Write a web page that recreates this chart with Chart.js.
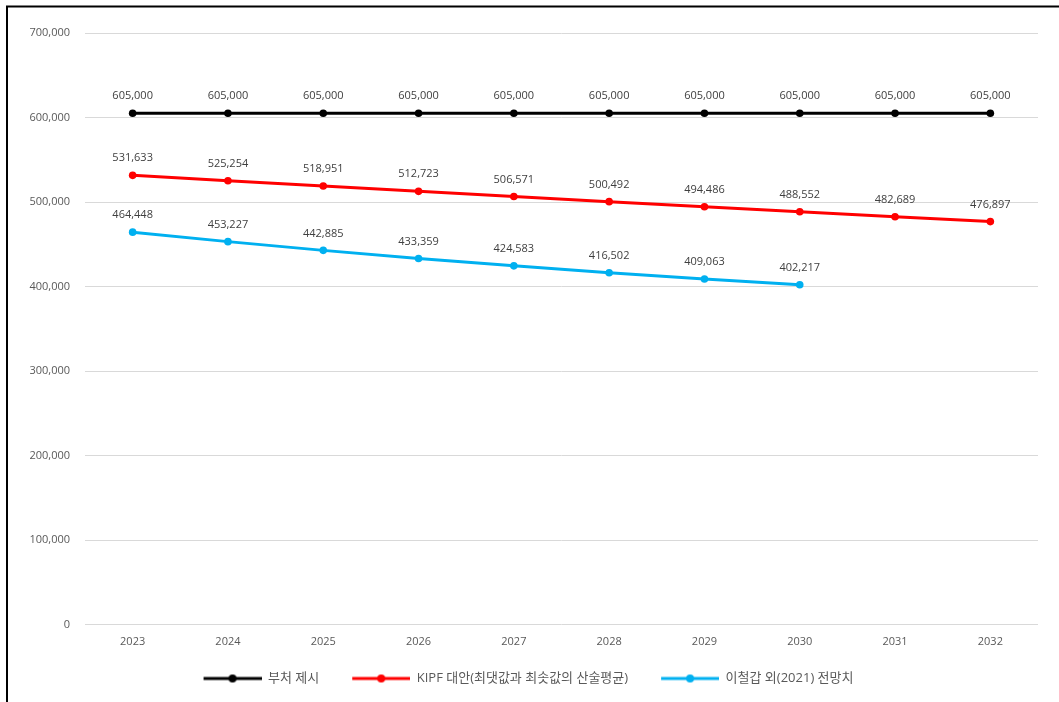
<!DOCTYPE html>
<html lang="ko">
<head>
<meta charset="utf-8">
<title>세수 전망 비교</title>
<script src="https://cdn.jsdelivr.net/npm/chart.js@4/dist/chart.umd.min.js"></script>
<style>
  html, body { margin: 0; padding: 0; background: #ffffff; }
  #wrap { position: relative; width: 1059px; height: 702px; }
</style>
</head>
<body>
<div id="wrap"><canvas id="chart" width="1059" height="702"></canvas></div>
<script>
// Years on the category axis
const years = ['2023', '2024', '2025', '2026', '2027', '2028', '2029', '2030', '2031', '2032'];

// Series names
const seriesNames = ['부처 제시', 'KIPF 대안(최댓값과 최솟값의 산술평균)', '이철갑 외(2021) 전망치'];

// Series values
const ministryValues = [605000, 605000, 605000, 605000, 605000, 605000, 605000, 605000, 605000, 605000];
const kipfValues = [531633, 525254, 518951, 512723, 506571, 500492, 494486, 488552, 482689, 476897];
const leeValues = [464448, 453227, 442885, 433359, 424583, 416502, 409063, 402217, null, null];

// Value axis ticks
const yTicks = [0, 100000, 200000, 300000, 400000, 500000, 600000, 700000];

const seriesColors = ['#000000', '#FF0000', '#00B0F0'];
const fontFamily = '"Open Sans", "Noto Sans CJK KR", "Noto Sans", sans-serif';
const fmt = v => v.toLocaleString('en-US');

// Legend symbol: blank lead-in, then a short line with a dot in its middle
const SYMBOL_LEAD = 19;
const SYMBOL_LINE = 58;
function legendSymbol(color) {
  const c = document.createElement('canvas');
  c.width = SYMBOL_LEAD + SYMBOL_LINE; c.height = 10;
  const g = c.getContext('2d');
  g.strokeStyle = color;
  g.lineWidth = 3;
  g.beginPath(); g.moveTo(SYMBOL_LEAD, 5); g.lineTo(SYMBOL_LEAD + SYMBOL_LINE, 5); g.stroke();
  g.fillStyle = color;
  g.beginPath(); g.arc(SYMBOL_LEAD + SYMBOL_LINE / 2, 5, 4, 0, Math.PI * 2); g.fill();
  return c;
}

// Outer frame around the chart
const framePlugin = {
  id: 'frame',
  beforeDraw(chart) {
    const ctx = chart.ctx;
    ctx.save();
    ctx.fillStyle = '#ffffff';
    ctx.fillRect(0, 0, chart.width, chart.height);
    ctx.strokeStyle = '#000000';
    ctx.lineWidth = 2;
    ctx.strokeRect(7, 6.5, chart.width + 20, chart.height + 20);
    ctx.restore();
  }
};

// Value labels above each point
const valueLabels = {
  id: 'valueLabels',
  afterDatasetsDraw(chart) {
    const ctx = chart.ctx;
    ctx.save();
    ctx.font = '11px ' + fontFamily;
    ctx.fillStyle = '#404040';
    ctx.textAlign = 'center';
    ctx.textBaseline = 'middle';
    chart.data.datasets.forEach((ds, i) => {
      const meta = chart.getDatasetMeta(i);
      meta.data.forEach((pt, j) => {
        const v = ds.data[j];
        if (v === null || v === undefined) return;
        ctx.fillText(fmt(v), pt.x, pt.y - 17);
      });
    });
    ctx.restore();
  }
};

const makeSet = (label, data, color) => ({
  label,
  data,
  borderColor: color,
  backgroundColor: color,
  borderWidth: 3,
  pointRadius: 3.8,
  pointHoverRadius: 3.8,
  pointBorderWidth: 0,
  pointBackgroundColor: color,
  tension: 0,
  spanGaps: false
});

new Chart(document.getElementById('chart'), {
  type: 'line',
  data: {
    labels: years,
    datasets: [
      makeSet(seriesNames[0], ministryValues, seriesColors[0]),
      makeSet(seriesNames[1], kipfValues, seriesColors[1]),
      makeSet(seriesNames[2], leeValues, seriesColors[2])
    ]
  },
  options: {
    responsive: false,
    animation: false,
    layout: { padding: { left: 0, right: 21, top: 33, bottom: 7 } },
    plugins: {
      tooltip: { enabled: false },
      legend: {
        position: 'bottom',
        labels: {
          usePointStyle: true,
          pointStyleWidth: SYMBOL_LEAD + SYMBOL_LINE,
          padding: 14,
          color: '#595959',
          font: { family: fontFamily, size: 13 },
          generateLabels(chart) {
            return chart.data.datasets.map((ds, i) => ({
              text: ds.label,
              fillStyle: ds.borderColor,
              strokeStyle: ds.borderColor,
              lineWidth: 0,
              pointStyle: legendSymbol(ds.borderColor),
              hidden: false,
              datasetIndex: i,
              fontColor: '#595959'
            }));
          }
        }
      }
    },
    scales: {
      x: {
        offset: true,
        grid: { display: false, drawTicks: false },
        border: { display: false },
        ticks: {
          color: '#595959',
          padding: 10,
          font: { family: fontFamily, size: 11 }
        }
      },
      y: {
        min: 0,
        max: 700000,
        afterBuildTicks(scale) { scale.ticks = yTicks.map(v => ({ value: v })); },
        afterFit(scale) { scale.width = 85; },
        grid: { color: '#D9D9D9', lineWidth: 1, drawTicks: false },
        border: { display: false },
        ticks: {
          color: '#595959',
          padding: 15,
          font: { family: fontFamily, size: 11 },
          callback: v => fmt(v)
        }
      }
    }
  },
  plugins: [framePlugin, valueLabels]
});
</script>
</body>
</html>
